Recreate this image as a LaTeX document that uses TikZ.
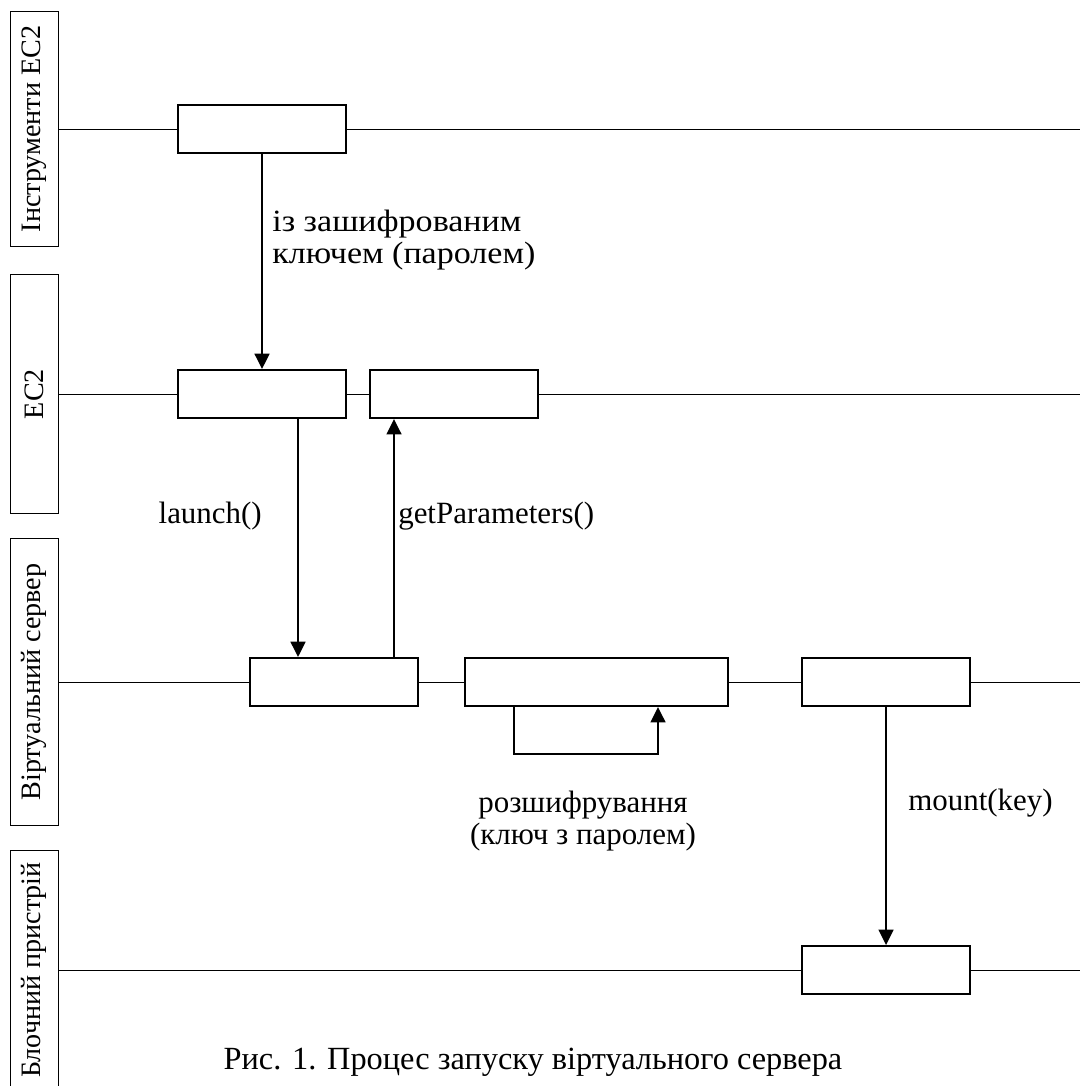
\documentclass[tikz,border=0pt]{standalone}
\usepackage{fontspec}
\setmainfont{Liberation Serif}
\usetikzlibrary{arrows.meta,positioning}

\begin{document}
\begin{tikzpicture}[x=0.025cm,y=-0.025cm,
  lanebox/.style={draw,rotate=90,minimum height=1.2cm,inner sep=0pt,line width=0.6pt,
    font=\fontsize{20}{24}\selectfont},
  laneline/.style={line width=0.7pt},
  actbox/.style={draw,fill=white,minimum width=4.2cm,minimum height=1.2cm,inner sep=0pt,line width=1.3pt},
  msg/.style={-{Triangle[length=11pt,width=10.5pt]},line width=1.6pt},
  lbl/.style={inner sep=0pt,font=\fontsize{22}{22.5}\selectfont}]
\useasboundingbox (0,0) rectangle (1080,1086);
% lanes
\node[lanebox,minimum width=5.875cm] (l1) at (34,129) {Інструменти EC2};
\node[lanebox,minimum width=5.975cm] (l2) at (34,394) {EC2};
\node[lanebox,minimum width=7.175cm] (l3) at (34,682) {Віртуальний сервер};
\node[lanebox,minimum width=6cm] (l4) at (34,970) {Блочний пристрій};
\coordinate (r1) at (1080,129);
\coordinate (r2) at (1080,394);
\coordinate (r3) at (1080,682);
\coordinate (r4) at (1080,970);
\draw[laneline] (l1.south) -- (r1);
\draw[laneline] (l2.south) -- (r2);
\draw[laneline] (l3.south) -- (r3);
\draw[laneline] (l4.south) -- (r4);
% activations
\node[actbox] (t1) at (262,129) {};
\node[actbox] (e1) at (262,394) {};
\node[actbox] (e2) at (454,394) {};
\node[actbox] (v1) at (334,682) {};
\node[actbox,minimum width=6.575cm] (v2) at (596.5,682) {};
\node[actbox] (v3) at (886,682) {};
\node[actbox] (b1) at (886,970) {};
% messages
\draw[msg] (t1) -- (e1);
\draw[msg] (e1.south -| 298,0) -- (v1.north -| 298,0);
\draw[msg] (v1.north -| 394,0) -- (e2.south -| 394,0);
\draw[msg] (v2.south -| 514,0) |- (658,754) -- (v2.south -| 658,0);
\draw[msg] (v3) -- (b1);
% labels
\node[lbl,anchor=west,align=left,xscale=1.1,transform shape] (enc) at (272,240) {із зашифрованим\\ключем (паролем)};
\node[lbl,anchor=east] (lau) at (262,516) {launch()};
\node[lbl,anchor=west] (gp) at (398,516) {getParameters()};
\node[lbl,align=center] (dec) at (583,821) {розшифрування\\(ключ з паролем)};
\node[lbl,anchor=west] (mnt) at (908,803) {mount(key)};
\node[lbl,font=\fontsize{23}{24}\selectfont] (cap) at (533,1062) {Рис. 1. Процес запуску віртуального сервера};
\end{tikzpicture}
\end{document}
